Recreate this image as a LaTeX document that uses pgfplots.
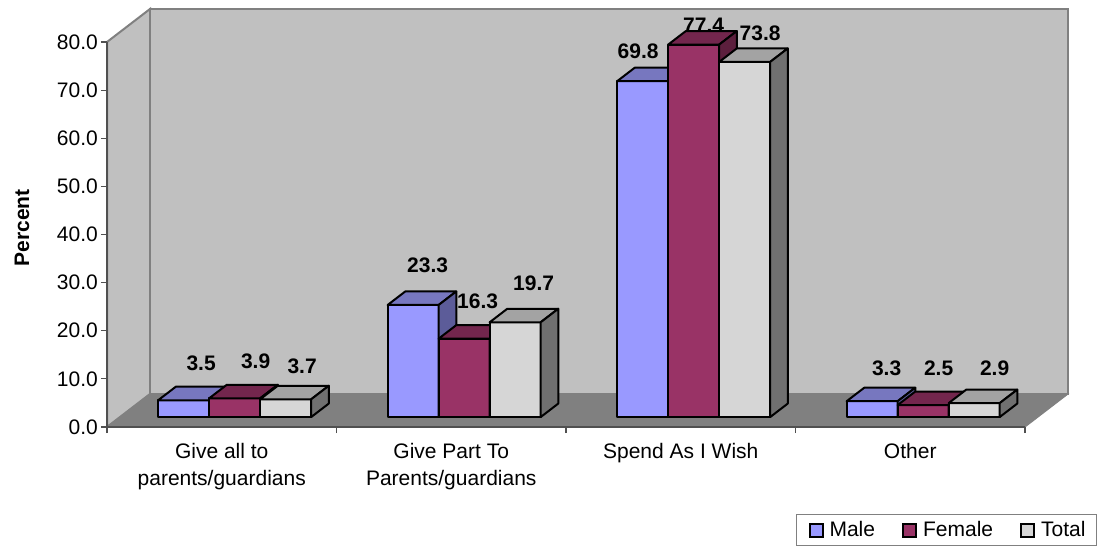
\documentclass[border=0pt]{standalone}
\usepackage{fontspec}
\setmainfont{Liberation Sans}
\usepackage{pgfplots}
\pgfplotsset{compat=1.18}

\definecolor{wall}{HTML}{C0C0C0}
\definecolor{floorc}{HTML}{808080}
\definecolor{axisline}{HTML}{505050}
\definecolor{maleF}{HTML}{9999FF}
\definecolor{maleT}{HTML}{7777BF}
\definecolor{maleS}{HTML}{5C5C99}
\definecolor{femF}{HTML}{993366}
\definecolor{femT}{HTML}{73264D}
\definecolor{femS}{HTML}{5C1F3D}
\definecolor{totF}{HTML}{D6D6D6}
\definecolor{totT}{HTML}{A3A3A3}
\definecolor{totS}{HTML}{707070}

\newcommand\chartfont{\fontsize{21}{27}\selectfont}

% front, top and side faces of one bar: x0, x1, value, colour prefix
\newcommand\threedbar[4]{%
  \addplot3[draw=black,line width=2pt,line join=round,fill=#4F,mark=none] coordinates
    {(#1,0.30,0) (#2,0.30,0) (#2,0.30,#3) (#1,0.30,#3)} -- cycle;
  \addplot3[draw=black,line width=2pt,line join=round,fill=#4T,mark=none] coordinates
    {(#1,0.30,#3) (#2,0.30,#3) (#2,0.71,#3) (#1,0.71,#3)} -- cycle;
  \addplot3[draw=black,line width=2pt,line join=round,fill=#4S,mark=none] coordinates
    {(#2,0.30,0) (#2,0.71,0) (#2,0.71,#3) (#2,0.30,#3)} -- cycle;
}
% value label: x centre, value, pixel offsets from the bar's top front edge
\newcommand\vlabel[4]{%
  \node[font=\chartfont\bfseries,inner sep=0pt,xshift=#3pt,yshift=#4pt] at (axis cs:#1,0.30,#2) {#2};
}

\begin{document}
\begin{tikzpicture}[x=1pt,y=1pt]
\fill[white,use as bounding box] (0,0) rectangle (1098,550);

\begin{axis}[
  at={(107pt,123pt)},anchor=origin,
  x={(229.5pt,0pt)},y={(43pt,33pt)},z={(0pt,4.8125pt)},
  xmin=0,xmax=4,ymin=0,ymax=1,zmin=0,zmax=80,
  hide axis,clip=false,
]
  % walls and floor
  \addplot3[draw=floorc,line width=2pt,fill=wall,mark=none] coordinates
    {(0,0,0) (0,1,0) (0,1,80) (0,0,80)} -- cycle;
  \addplot3[draw=floorc,line width=2pt,fill=wall,mark=none] coordinates
    {(0,1,0) (4,1,0) (4,1,80) (0,1,80)} -- cycle;
  \addplot3[draw=floorc,line width=1pt,fill=floorc,mark=none] coordinates
    {(0,0,0) (4,0,0) (4,1,0) (0,1,0)} -- cycle;

  % value labels sit behind the bars
  \vlabel{0.2778}{3.5}{17.5}{37}
  \vlabel{0.5000}{3.9}{21}{37}
  \vlabel{0.7222}{3.7}{16.5}{33}
  \vlabel{1.2778}{23.3}{14.5}{40}
  \vlabel{1.5000}{16.3}{13.5}{37}
  \vlabel{1.7222}{19.7}{18.5}{39}
  \vlabel{2.2778}{69.8}{-4.5}{30}
  \vlabel{2.5000}{77.4}{10}{19}
  \vlabel{2.7222}{73.8}{15.5}{29}
  \vlabel{3.2778}{3.3}{14.5}{33}
  \vlabel{3.5000}{2.5}{15.5}{37}
  \vlabel{3.7222}{2.9}{20.5}{35}

  % Give all to parents/guardians
  \threedbar{0.1667}{0.3889}{3.5}{male}
  \threedbar{0.3889}{0.6111}{3.9}{fem}
  \threedbar{0.6111}{0.8333}{3.7}{tot}
  % Give part to parents/guardians
  \threedbar{1.1667}{1.3889}{23.3}{male}
  \threedbar{1.3889}{1.6111}{16.3}{fem}
  \threedbar{1.6111}{1.8333}{19.7}{tot}
  % Spend as I wish
  \threedbar{2.1667}{2.3889}{69.8}{male}
  \threedbar{2.3889}{2.6111}{77.4}{fem}
  \threedbar{2.6111}{2.8333}{73.8}{tot}
  % Other
  \threedbar{3.1667}{3.3889}{3.3}{male}
  \threedbar{3.3889}{3.6111}{2.5}{fem}
  \threedbar{3.6111}{3.8333}{2.9}{tot}
\end{axis}

\begin{axis}[
  at={(107pt,123pt)},anchor=south west,
  scale only axis,width=918pt,height=385pt,
  xmin=0,xmax=4,ymin=0,ymax=80,
  axis x line*=bottom,axis y line*=left,
  axis line style={draw=axisline,line width=1.5pt,-},
  tick style={draw=axisline,line width=1.2pt},
  major tick length=6pt,
  tick align=outside,
  xtick={0,1,2,3,4},xticklabels={},
  ytick={0,10,...,80},
  extra x ticks={0.5,1.5,2.5,3.5},
  extra x tick labels={Give all to\\parents/guardians,Give Part To\\Parents/guardians,Spend As I Wish,Other},
  extra x tick style={major tick length=0pt,
    tick label style={align=center,anchor=north,yshift=-13pt,font=\chartfont}},
  yticklabel style={font=\chartfont,inner sep=0pt,xshift=-3pt},
  /pgf/number format/.cd,fixed,fixed zerofill,precision=1,assume math mode=true,
  /pgfplots/.cd,
  ylabel={\bfseries Percent},
  ylabel style={font=\chartfont,at={(axis description cs:-0.0926,0.517)},anchor=center},
  legend style={at={(axis description cs:1.0784,-0.309)},anchor=south east,
    draw=floorc,line width=1pt,font=\chartfont,inner xsep=9pt,inner ysep=5pt,
    /tikz/every even column/.append style={column sep=22pt},
    /tikz/every odd column/.append style={column sep=4pt}},
  legend columns=3,
  legend cell align=left,
  legend image code/.code={\path (0pt,0pt); \draw[#1] (3pt,-6.5pt) rectangle (16pt,6.5pt);},
]
  \addlegendimage{draw=black,line width=2pt,fill=maleF}
  \addlegendentry{Male}
  \addlegendimage{draw=black,line width=2pt,fill=femF}
  \addlegendentry{Female}
  \addlegendimage{draw=black,line width=2pt,fill=totF}
  \addlegendentry{Total}
\end{axis}
\end{tikzpicture}
\end{document}
